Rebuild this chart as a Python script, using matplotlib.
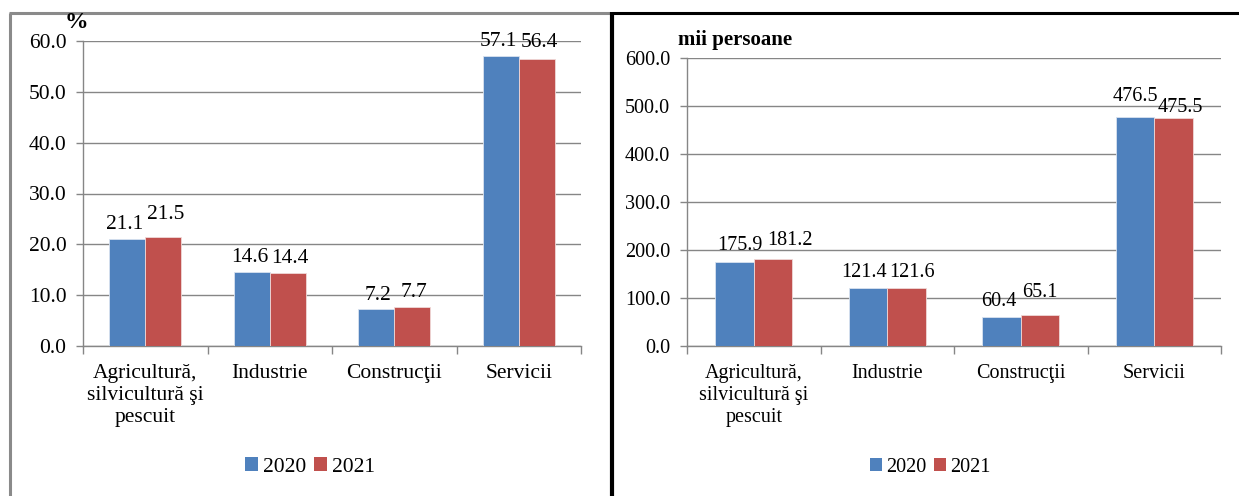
import matplotlib
matplotlib.use("Agg")
import matplotlib.pyplot as plt
from matplotlib.lines import Line2D
from matplotlib.patches import Patch
import numpy as np

plt.rcParams['font.family'] = ['Liberation Serif', 'DejaVu Serif']

categories = ["Agricultură,\nsilvicultură şi\npescuit", "Industrie", "Construcţii", "Servicii"]
years = ["2020", "2021"]
share_2020 = [21.1, 14.6, 7.2, 57.1]
share_2021 = [21.5, 14.4, 7.7, 56.4]
pers_2020 = [175.9, 121.4, 60.4, 476.5]
pers_2021 = [181.2, 121.6, 65.1, 475.5]

# label nudges in points (dx, dy) to mimic the reference's collision avoidance
nudge_share_2020 = [(-2, 0), (-1.5, 0), (1, 0), (-2, 0)]
nudge_share_2021 = [(1.5, 6), (1.5, 0), (1, 0), (1.5, 2)]
nudge_pers_2020 = [(4, 0), (-3, 0), (-1.5, 0), (0, 4)]
nudge_pers_2021 = [(12, 2), (4, 0), (0, 5), (5, -4)]

blue = "#4F81BD"
red = "#C0504D"
grid_c = "#868686"

W, H = 1239, 496
fig = plt.figure(figsize=(W / 100, H / 100), dpi=100)


def px_axes(x0, y0, x1, y1):
    return fig.add_axes([x0 / W, 1 - y1 / H, (x1 - x0) / W, (y1 - y0) / H])


def draw(ax, v1, v2, n1, n2, ymax, step, unit, unit_xy, unit_fs, legend_x, fs, gap):
    x = np.arange(len(categories))
    w = 0.29
    ax.bar(x - w / 2, v1, w, color=blue, edgecolor="#d9e2ef", linewidth=0.6, label=years[0], zorder=3)
    ax.bar(x + w / 2, v2, w, color=red, edgecolor="#efd9d8", linewidth=0.6, label=years[1], zorder=3)
    for xs, vals, nud in ((x - w / 2, v1, n1), (x + w / 2, v2, n2)):
        for xi, v, (dx, dy) in zip(xs, vals, nud):
            ax.annotate(f"{v:.1f}", (xi, v), xytext=(dx, gap + dy), textcoords="offset points",
                        ha="center", va="baseline", fontsize=fs)
    ax.set_xlim(-0.5, len(categories) - 0.5)
    ax.set_ylim(0, ymax)
    yt = np.arange(0, ymax + step / 2, step)
    ax.set_yticks(yt)
    ax.set_yticklabels([f"{t:.1f}" for t in yt], fontsize=fs)
    ax.yaxis.grid(True, color=grid_c, linewidth=1.0, zorder=0)
    ax.set_axisbelow(True)
    ax.set_xticks(np.arange(-0.5, len(categories)), minor=False)
    ax.set_xticklabels([])
    ax.set_xticks(x, minor=True)
    ax.set_xticklabels(categories, minor=True, fontsize=fs, linespacing=1.2)
    ax.tick_params(axis="x", which="major", length=6, color=grid_c, width=1)
    ax.tick_params(axis="x", which="minor", length=0, pad=13)
    ax.tick_params(axis="y", length=5, color=grid_c, width=1, pad=7)
    for s in ["top", "right"]:
        ax.spines[s].set_visible(False)
    for s in ["left", "bottom"]:
        ax.spines[s].set_color(grid_c)
        ax.spines[s].set_linewidth(1.0)
    fig.text(unit_xy[0] / W, 1 - unit_xy[1] / H, unit, fontsize=unit_fs, fontweight="bold",
             ha="left", va="center")
    handles = [Patch(facecolor=blue), Patch(facecolor=red)]
    fig.legend(handles, years, loc="center", bbox_to_anchor=(legend_x / W, 1 - 467 / H),
               ncol=2, frameon=False, fontsize=fs, handlelength=0.6, handleheight=0.6,
               handletextpad=0.2, columnspacing=0.4)


ax1 = px_axes(83, 41, 581, 346)
draw(ax1, share_2020, share_2021, nudge_share_2020, nudge_share_2021,
     60, 10, "%", (65, 22), 17, 310, 15.5, 7)

ax2 = px_axes(687, 58, 1221, 346)
draw(ax2, pers_2020, pers_2021, nudge_pers_2020, nudge_pers_2021,
     600, 100, "mii persoane", (678, 40), 15, 930, 14.5, 8)

# panel frames
def fline(xs, ys, color, lw):
    fig.add_artist(Line2D([x / W for x in xs], [1 - y / H for y in ys], color=color,
                          linewidth=lw, transform=fig.transFigure, solid_capstyle="butt"))

fline([10, 10], [13, 496], "#8a8a8a", 2.2)
fline([9, 611], [13, 13], "#8a8a8a", 2.2)
fline([612, 1239], [13, 13], "black", 2.2)
fline([612, 612], [12, 496], "black", 3.0)

fig.savefig("out.png", dpi=100)
